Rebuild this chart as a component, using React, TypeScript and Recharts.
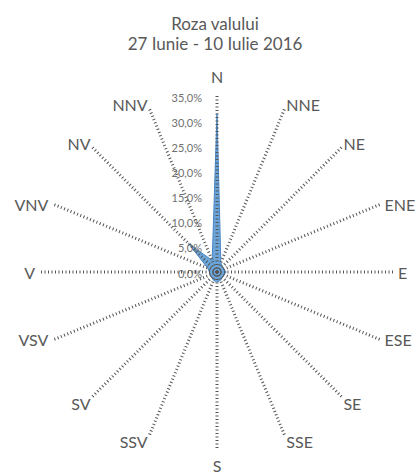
import { PolarAngleAxis, PolarGrid, PolarRadiusAxis, Radar, RadarChart } from "recharts";

const directions = ["N", "NNE", "NE", "ENE", "E", "ESE", "SE", "SSE", "S", "SSV", "SV", "VSV", "V", "VNV", "NV", "NNV"];
const frequency = [31.5, 2, 1.5, 1.5, 1.8, 1.5, 1.5, 1.8, 2, 1.8, 1.5, 1.5, 1.5, 2, 8, 2.5];
const radiusTicks = [0, 5, 10, 15, 20, 25, 30, 35];

const data = directions.map((dir, i) => ({ dir, value: frequency[i] }));

const W = 417;
const H = 474;
const CX = 217;
const CY = 272;
const R = 176;
const FONT = "Lato, 'Open Sans', sans-serif";
const TEXT = "#595959";

function AngleTick(props: any) {
  const deg = props.payload.coordinate;
  const rad = (deg * Math.PI) / 180;
  const c = Math.cos(rad);
  const s = Math.sin(rad);
  const px = CX + R * c;
  const py = CY - R * s;
  let x = px;
  let y = py;
  let anchor: "start" | "end" | "middle" = "middle";
  let baseline = "central";
  if (Math.abs(c) < 0.01) {
    if (s > 0) {
      y = py - 13;
      baseline = "auto";
    } else {
      y = py + 11;
      baseline = "hanging";
    }
  } else {
    anchor = c > 0 ? "start" : "end";
    if (Math.abs(s) < 0.5) {
      x = px + (c > 0 ? 5 : -6);
    } else {
      x = px + (c > 0 ? 2 : -2);
      if (s > 0) {
        y = py + 2;
        baseline = "auto";
      } else {
        y = py + 1;
        baseline = "hanging";
      }
    }
  }
  return (
    <text x={x} y={y} textAnchor={anchor} dominantBaseline={baseline} fontSize={16} fontFamily={FONT} fill={TEXT}>
      {props.payload.value}
    </text>
  );
}

function RadiusTick(props: any) {
  const v = Number(props.payload.value);
  return (
    <text x={props.x - 15} y={props.y + 1} textAnchor="end" dominantBaseline="central" fontSize={11} fontFamily={FONT} fill="#6f6f6f">
      {v.toFixed(1).replace(".", ",") + "%"}
    </text>
  );
}

export default function App() {
  return (
    <div style={{ position: "absolute", left: 0, top: 0, width: W, height: H, background: "#fff" }}>
      <svg width={W} height={60} style={{ position: "absolute", left: 0, top: 0 }}>
        <text x={215} y={30} textAnchor="middle" fontSize={17} fontFamily={FONT} fill={TEXT}>
          Roza valului
        </text>
        <text x={215} y={50} textAnchor="middle" fontSize={17} fontFamily={FONT} fill={TEXT}>
          27 Iunie - 10 Iulie 2016
        </text>
      </svg>
      <div style={{ position: "absolute", left: 0, top: 0 }}>
        <RadarChart width={W} height={H} cx={CX} cy={CY} outerRadius={R} data={data} margin={{ top: 0, right: 0, bottom: 0, left: 0 }}>
          <Radar dataKey="value" fill="#5B9BD5" fillOpacity={0.9} stroke="#4A86C5" strokeWidth={1} isAnimationActive={false} />
          <PolarGrid {...({ zIndex: 700 } as any)} gridType="circle" polarRadius={[]} stroke="#555" strokeWidth={3} strokeDasharray="1 2.5" />
          <PolarAngleAxis dataKey="dir" axisLine={false} tickLine={false} tick={<AngleTick />} />
          <PolarRadiusAxis angle={90} domain={[0, 35]} ticks={radiusTicks} tickCount={8} axisLine={false} tickLine={false} tick={<RadiusTick />} />
        </RadarChart>
      </div>
    </div>
  );
}
